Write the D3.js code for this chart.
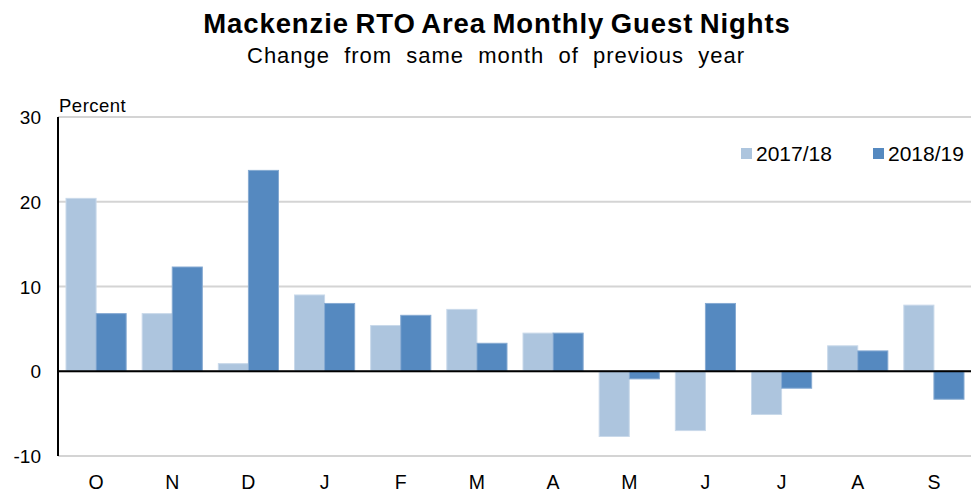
<!DOCTYPE html>
<html>
<head>
<meta charset="utf-8">
<script src="https://cdn.jsdelivr.net/npm/d3@7"></script>
<style>
  body { margin: 0; background: #fff; }
  text { font-family: "Liberation Sans", Arial, sans-serif; fill: #000; }
</style>
</head>
<body>
<div id="vis"></div>
<script>
// monthly change values (percent)
var months = ["O", "N", "D", "J", "F", "M", "A", "M", "J", "J", "A", "S"];
var series = ["2017/18", "2018/19"];
var v1718 = [20.4, 6.8, 0.9, 9.0, 5.4, 7.3, 4.5, -7.7, -7.0, -5.1, 3.0, 7.8];
var v1819 = [6.8, 12.3, 23.7, 8.0, 6.6, 3.3, 4.5, -0.9, 8.0, -2.0, 2.4, -3.3];
var yTicks = [-10, 0, 10, 20, 30];

var w = 971;
var h = 494;
var mLeft = 58, mRight = 972, mTop = 117, mBottom = 456;

var colors = ["#adc5de", "#5589c0"];

var data = months.map((m, i) => ({ i: i, m: m, vals: [v1718[i], v1819[i]] }));

var chart = d3.select("#vis")
              .append("svg")
              .attr("width", w)
              .attr("height", h)

const xScale = d3.scaleBand()
            .domain(d3.range(months.length))
            .range([mLeft, mRight])
            .paddingInner(0.21)
            .paddingOuter(0.105)
const x2 = d3.scaleBand()
            .domain([0, 1])
            .range([0, xScale.bandwidth()])

const yScale = d3.scaleLinear()
            .domain([-10, 30])
            .range([mBottom, mTop])

// gridlines
chart.append("g")
     .selectAll("line")
     .data(yTicks)
     .enter()
     .append("line")
     .attr("x1", mLeft)
     .attr("x2", mRight)
     .attr("y1", d => yScale(d))
     .attr("y2", d => yScale(d))
     .attr("stroke", "#d4d4d4")
     .attr("stroke-width", 2)

// y labels
chart.append("g")
     .selectAll("text")
     .data(yTicks)
     .enter()
     .append("text")
     .attr("x", 41)
     .attr("y", d => yScale(d) + 7)
     .attr("text-anchor", "end")
     .style("font-size", "19px")
     .text(d => d)

// bars
var groups = chart.append("g")
     .selectAll("g")
     .data(data)
     .enter()
     .append("g")
     .attr("transform", d => `translate(${xScale(d.i)},0)`)

groups.selectAll("rect")
      .data(d => d.vals)
      .enter()
      .append("rect")
      .attr("x", (d, j) => x2(j))
      .attr("width", x2.bandwidth())
      .attr("y", d => yScale(Math.max(0, d)))
      .attr("height", d => Math.abs(yScale(d) - yScale(0)))
      .attr("fill", (d, j) => colors[j])
      .attr("stroke", (d, j) => j == 0 ? "#c9d9ea" : "#86aad2")
      .attr("stroke-width", 1)

// zero line and left axis
chart.append("line")
     .attr("x1", mLeft).attr("x2", mRight)
     .attr("y1", yScale(0)).attr("y2", yScale(0))
     .attr("stroke", "#000").attr("stroke-width", 2)
chart.append("line")
     .attr("x1", mLeft).attr("x2", mLeft)
     .attr("y1", mTop).attr("y2", mBottom)
     .attr("stroke", "#000").attr("stroke-width", 2)

// x labels
chart.append("g")
     .selectAll("text")
     .data(data)
     .enter()
     .append("text")
     .attr("x", d => xScale(d.i) + xScale.bandwidth() / 2)
     .attr("y", 489)
     .attr("text-anchor", "middle")
     .style("font-size", "19.5px")
     .text(d => d.m)

// titles
chart.append("text")
     .attr("x", 497).attr("y", 33)
     .attr("text-anchor", "middle")
     .style("font-size", "27.5px")
     .style("font-weight", "bold")
     .style("letter-spacing", "0.9px")
     .style("word-spacing", "-2px")
     .text("Mackenzie RTO Area Monthly Guest Nights")
chart.append("text")
     .attr("x", 496).attr("y", 63)
     .attr("text-anchor", "middle")
     .style("font-size", "22px")
     .style("letter-spacing", "1px")
     .style("word-spacing", "7px")
     .text("Change from same month of previous year")
chart.append("text")
     .attr("x", 59).attr("y", 112)
     .style("font-size", "18.5px")
     .style("letter-spacing", "0.5px")
     .text("Percent")

// legend
var leg = chart.append("g")
     .selectAll("g")
     .data(series)
     .enter()
     .append("g")
     .attr("transform", (d, i) => `translate(${741 + i * 132},148)`)
leg.append("rect")
   .attr("width", 11).attr("height", 11)
   .attr("fill", (d, i) => colors[i])
leg.append("text")
   .attr("x", 15).attr("y", 13)
   .style("font-size", "21px")
   .text(d => d)
</script>
</body>
</html>
